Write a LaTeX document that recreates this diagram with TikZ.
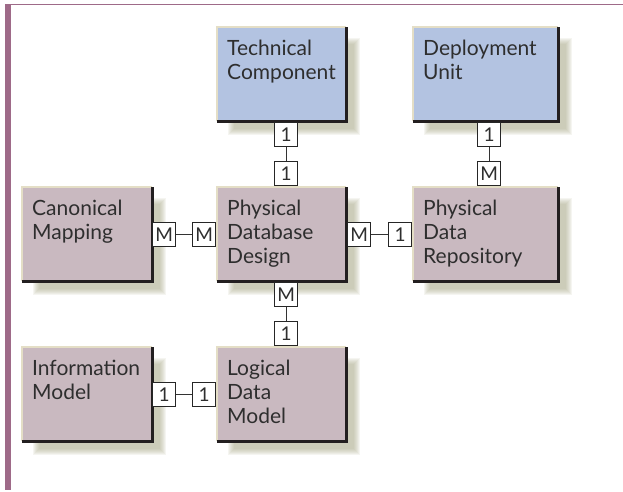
\documentclass[tikz,border=0pt]{standalone}
\usepackage{fontspec}
\setmainfont{Lato}
\definecolor{frame}{HTML}{9E6A88}
\definecolor{techblue}{HTML}{B3C3E1}
\definecolor{mauve}{HTML}{C9B9C0}
\definecolor{edgelight}{HTML}{E4DEC6}
\definecolor{edgedark}{HTML}{231F20}
\definecolor{shadowtone}{HTML}{A8A888}
\definecolor{ink}{HTML}{2E2E2E}

\tikzset{
  card/.style={draw=black!85, line width=0.7pt, fill=white, minimum width=23pt,
    minimum height=24pt, inner sep=0pt, font=\fontsize{19}{19}\selectfont, text=ink},
  link/.style={draw=black!80, line width=0.8pt},
  entitytext/.style={anchor=base west, inner sep=0pt,
    font=\fontsize{21}{24}\selectfont, text=ink},
}

% lines stacked with the first baseline as the box's baseline
\newcommand{\Lines}[1]{\begin{tabular}[t]{@{}l@{}}#1\end{tabular}}

% #1 name, #2 left, #3 top, #4 width, #5 height, #6 fill, #7 text
\newcommand{\EntityBox}[7]{%
  \foreach \d in {0,1,...,6}{
    \fill[shadowtone, opacity=0.11] (#2+17-\d, -#3-17+\d) rectangle (#2+#4+8+\d, -#3-#5-8-\d);
  }
  \node[fill=#6, minimum width=#4pt, minimum height=#5pt, inner sep=0pt,
    anchor=north west] (#1) at (#2,-#3) {};
  \draw[edgelight, line width=2pt] (#1.south west) -- (#1.north west) -- (#1.north east);
  \draw[edgedark, line width=2.5pt] (#1.north east) -- (#1.south east) -- (#1.south west);
  \node[entitytext] (#1-text) at ([xshift=10pt, yshift=-28pt]#1.north west) {\Lines{#7}};
}

\begin{document}
\begin{tikzpicture}[x=1pt, y=1pt]
  \useasboundingbox (0,0) rectangle (623,-491);
  \fill[white] (0,0) rectangle (623,-491);

  % page frame
  \fill[frame] (5,-4) rectangle (11,-490);
  \draw[frame, line width=1.2pt] (5,-4.5) -- (623,-4.5);

  % entities
  \EntityBox{tc}{217}{27}{129}{94}{techblue}{Technical\\Component}
  \EntityBox{du}{413}{27}{145}{94}{techblue}{Deployment\\Unit}
  \EntityBox{cm}{22}{187}{130}{94}{mauve}{Canonical\\Mapping}
  \EntityBox{pdd}{217}{187}{129}{94}{mauve}{Physical\\Database\\Design}
  \EntityBox{pdr}{413}{187}{145}{94}{mauve}{Physical\\Data\\Repository}
  \EntityBox{im}{22}{347}{130}{94}{mauve}{Information\\Model}
  \EntityBox{ldm}{217}{347}{129}{94}{mauve}{Logical\\Data\\Model}

  % cardinalities
  \node[card, anchor=north] (tc-b) at ([xshift=4.5pt, yshift=-1pt]tc.south) {1};
  \node[card, anchor=south] (pdd-t) at ([xshift=4.5pt, yshift=1pt]pdd.north) {1};
  \draw[link] (tc-b) -- (pdd-t);

  \node[card, anchor=north] (du-b) at ([xshift=3.5pt, yshift=-1pt]du.south) {1};
  \node[card, anchor=south] (pdr-t) at ([xshift=3.5pt, yshift=1pt]pdr.north) {M};
  \draw[link] (du-b) -- (pdr-t);

  \node[card, anchor=west] (cm-r) at ([xshift=0pt]cm.east) {M};
  \node[card, anchor=east] (pdd-l) at ([xshift=-1pt]pdd.west) {M};
  \draw[link] (cm-r) -- (pdd-l);

  \node[card, anchor=west] (pdd-r) at ([xshift=1pt]pdd.east) {M};
  \node[card, anchor=east] (pdr-l) at ([xshift=-1pt]pdr.west) {1};
  \draw[link] (pdd-r) -- (pdr-l);

  \node[card, anchor=north] (pdd-b) at ([xshift=4.5pt, yshift=-1pt]pdd.south) {M};
  \node[card, anchor=south] (ldm-t) at ([xshift=4.5pt, yshift=1pt]ldm.north) {1};
  \draw[link] (pdd-b) -- (ldm-t);

  \node[card, anchor=west] (im-r) at ([xshift=0pt]im.east) {1};
  \node[card, anchor=east] (ldm-l) at ([xshift=-1pt]ldm.west) {1};
  \draw[link] (im-r) -- (ldm-l);
\end{tikzpicture}
\end{document}
